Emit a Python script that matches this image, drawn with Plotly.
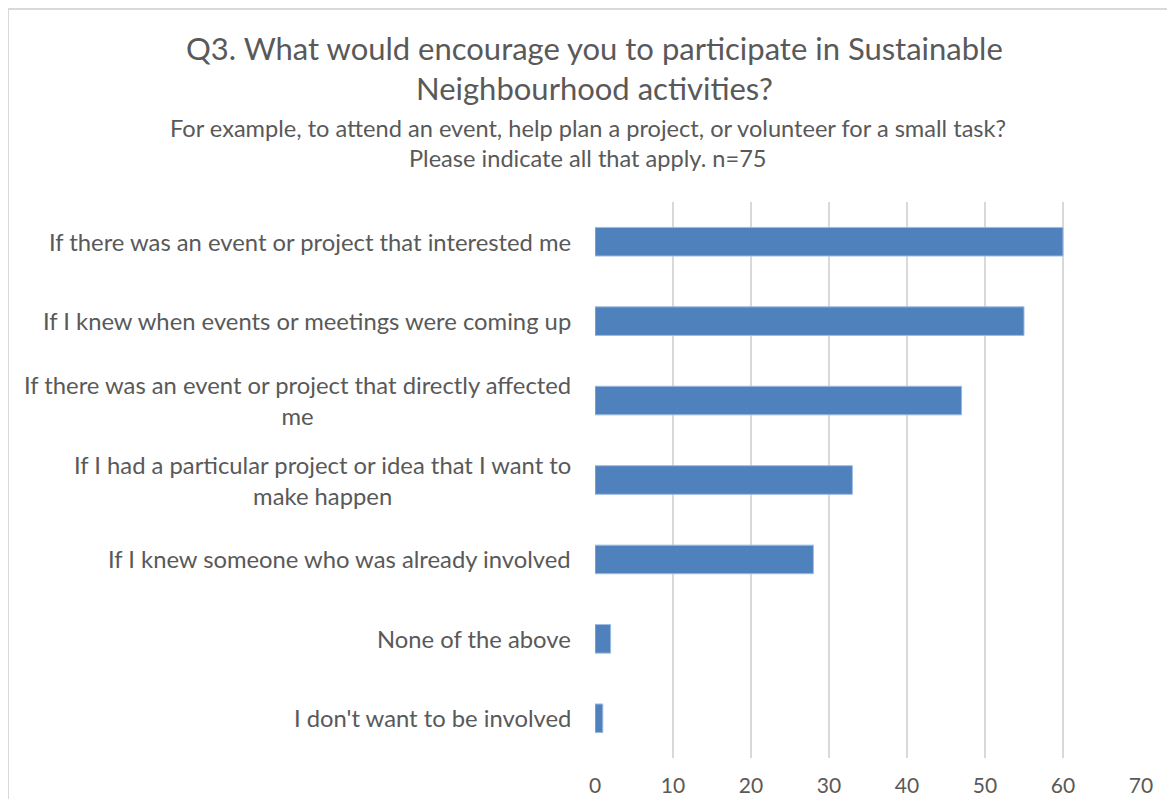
import plotly.graph_objects as go

categories = [
    "If there was an event or project that interested me",
    "If I knew when events or meetings were coming up",
    "If there was an event or project that directly affected<br>me",
    "If I had a particular project or idea that I want to<br>make happen",
    "If I knew someone who was already involved",
    "None of the above",
    "I don't want to be involved",
]
values = [60, 55, 47, 33, 28, 2, 1]
x_ticks = [0, 10, 20, 30, 40, 50, 60, 70]

title_lines = [
    "Q3. What would encourage you to participate in Sustainable",
    "Neighbourhood activities?",
]
subtitle_lines = [
    "For example, to attend an event, help plan a project, or volunteer for a small task?",
    "Please indicate all that apply. n=75",
]

OFF = 8  # page body margin
W, H = 1175 - 2 * OFF, 807 - 2 * OFF
L = 595 - OFF
T = 202 - OFF
R = W - (1141 - OFF)
B = H - (758 - OFF)
PW, PH = W - L - R, H - T - B
FONT = "Lato"
GRAY = "#595959"


def px2x(px):
    return (px - OFF - L) / PW


def py2y(py):
    return (H - B - (py - OFF)) / PH


ids = list(range(len(categories)))

fig = go.Figure()
fig.add_trace(go.Bar(
    y=ids,
    x=values,
    orientation="h",
    width=0.36,
    marker=dict(color="#4F81BD", line=dict(color="#9DBBE0", width=1)),
    hoverinfo="x",
))

annotations = []
for i, c in zip(ids, categories):
    annotations.append(dict(
        x=0, xref="paper", y=i, yref="y", text=c, showarrow=False,
        xanchor="right", yanchor="middle", align="center", xshift=-22,
        font=dict(family=FONT, size=23.8, color=GRAY),
    ))

for txt, cx, cy in [(title_lines[0], 594, 48), (title_lines[1], 594, 88)]:
    annotations.append(dict(
        x=px2x(cx), xref="paper", y=py2y(cy), yref="paper", text=txt,
        showarrow=False, xanchor="center", yanchor="middle",
        font=dict(family=FONT, size=31, color=GRAY),
    ))
for txt, cx, cy in [(subtitle_lines[0], 588, 128), (subtitle_lines[1], 588, 158)]:
    annotations.append(dict(
        x=px2x(cx), xref="paper", y=py2y(cy), yref="paper", text=txt,
        showarrow=False, xanchor="center", yanchor="middle",
        font=dict(family=FONT, size=23.6, color=GRAY),
    ))

fig.update_layout(
    width=W, height=H, autosize=False,
    margin=dict(l=L, r=R, t=T, b=B, pad=0, autoexpand=False),
    paper_bgcolor="white", plot_bgcolor="white",
    showlegend=False,
    bargap=0.64,
    annotations=annotations,
    shapes=[dict(
        type="rect", xref="paper", yref="paper",
        x0=px2x(8), x1=px2x(1200), y0=py2y(830), y1=py2y(9),
        line=dict(color="#D9D9D9", width=2), fillcolor="rgba(0,0,0,0)", layer="below",
    )],
    xaxis=dict(
        range=[0, 70], tickvals=x_ticks, showgrid=True, gridcolor="#D9D9D9", gridwidth=2,
        zeroline=False, showline=False, automargin=False,
        ticks="outside", ticklen=9, tickcolor="white",
        tickfont=dict(family=FONT, size=21, color=GRAY),
    ),
    yaxis=dict(
        range=[len(categories) - 0.5, -0.5], showticklabels=False, showgrid=False,
        zeroline=False, showline=False, ticks="", automargin=False,
    ),
)

fig.write_html("out.html")
